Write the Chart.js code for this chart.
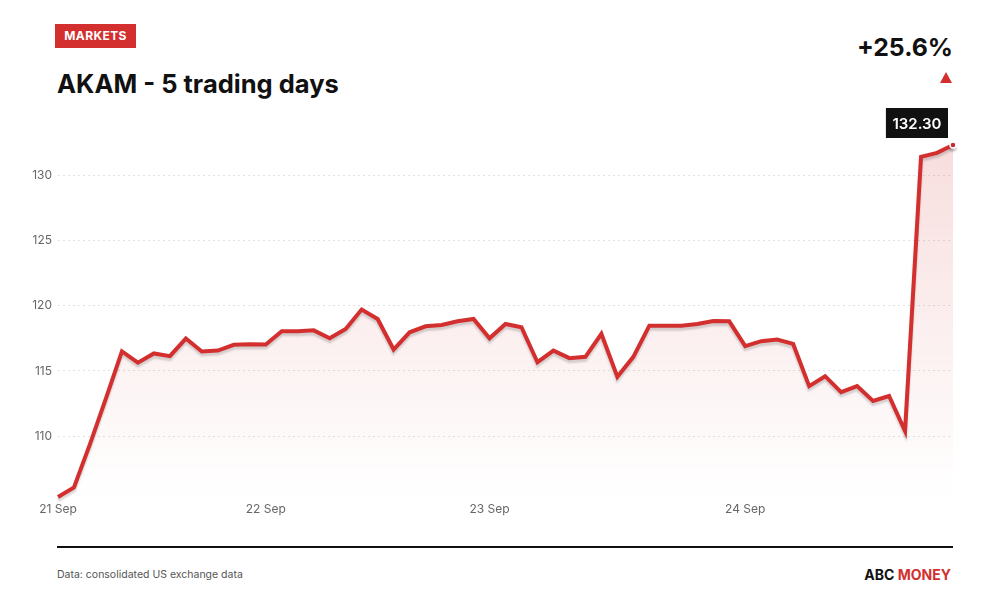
<!DOCTYPE html>
<html>
<head>
<meta charset="utf-8">
<title>AKAM - 5 trading days</title>
<script src="https://cdn.jsdelivr.net/npm/chart.js@4"></script>
<style>
  body { margin: 0; background: #fff; font-family: Inter, "Noto Sans", sans-serif; }
  #page { position: relative; width: 1000px; height: 600px; overflow: hidden; }
  #badge { position: absolute; left: 55px; top: 24px; width: 81px; height: 24px; background: #d32f2f;
    color: #fff; font-size: 12px; font-weight: 700; line-height: 24px; text-align: center; letter-spacing: 0.4px; }
  #title { position: absolute; left: 57px; top: 68px; font-size: 25.5px; font-weight: 700; color: #111; line-height: 32px; }
  #change { position: absolute; right: 47px; top: 31px; font-size: 24.8px; font-weight: 700; color: #111; line-height: 32px; }
  #arrow { position: absolute; left: 940px; top: 72px; width: 0; height: 0;
    border-left: 6.5px solid transparent; border-right: 6.5px solid transparent; border-bottom: 11px solid #d32f2f; }
  #wrap { position: absolute; left: 20px; top: 100px; width: 940px; height: 425px; }
  #rule { position: absolute; left: 57px; top: 546px; width: 896px; height: 2px; background: #111; }
  #source { position: absolute; left: 57px; top: 567px; font-size: 10.5px; color: #555; line-height: 16px; }
  #brand { position: absolute; right: 49px; top: 566px; font-size: 14px; font-weight: 700; color: #111; line-height: 18px; }
  #brand span { color: #d32f2f; }
</style>
</head>
<body>
<div id="page">
  <div id="badge">MARKETS</div>
  <div id="title">AKAM - 5 trading days</div>
  <div id="change"></div>
  <div id="arrow"></div>
  <div id="wrap"><canvas id="chart"></canvas></div>
  <div id="rule"></div>
  <div id="source">Data: consolidated US exchange data</div>
  <div id="brand">ABC <span>MONEY</span></div>
</div>
<script>
'use strict';

//*****DATA******/

let dayNames = ['21 Sep', '22 Sep', '23 Sep', '24 Sep'];
let dayCounts = [13, 14, 16, 14];

let prices = [
  105.35, 106.08, 109.4, 112.9, 116.5, 115.63, 116.34, 116.13, 117.48, 116.49,
  116.56, 117.0, 117.05, 117.02, 118.04, 118.04, 118.11, 117.5, 118.22, 119.7,
  118.98, 116.64, 117.96, 118.42, 118.52, 118.8, 118.98, 117.5, 118.6, 118.35,
  115.67, 116.56, 115.98, 116.08, 117.84, 114.55, 116.08, 118.47, 118.47, 118.47,
  118.6, 118.83, 118.8, 116.9, 117.28, 117.4, 117.07, 113.84, 114.6, 113.38,
  113.84, 112.7, 113.08, 110.4, 131.4, 131.7, 132.3
];

let yTicks = [110, 115, 120, 125, 130];

//*****HELPERS******/

let red = '#d32f2f';

let labels = [];
for (let i = 0; i < dayNames.length; i++) {
  for (let j = 0; j < dayCounts[i]; j++) {
    labels.push(dayNames[i]);
  }
}

let lastIndex = prices.length - 1;
let pctChange = (prices[lastIndex] / prices[0] - 1) * 100;
document.getElementById('change').textContent = (pctChange >= 0 ? '+' : '') + pctChange.toFixed(1) + '%';

// gray drop shadow under the line only (fill is drawn before this hook)
let shadowPlugin = {
  id: 'lineShadow',
  beforeDatasetDraw(chart) {
    let ctx = chart.ctx;
    ctx.save();
    ctx.shadowColor = 'rgba(0, 0, 0, 0.16)';
    ctx.shadowOffsetY = 3;
    ctx.shadowBlur = 2;
  },
  afterDatasetDraw(chart) {
    chart.ctx.restore();
  }
};

// black label box next to the last price
let lastLabelPlugin = {
  id: 'lastLabel',
  afterDraw(chart) {
    let ctx = chart.ctx;
    let x = chart.scales.x.getPixelForValue(lastIndex);
    let y = chart.scales.y.getPixelForValue(prices[lastIndex]);
    let text = prices[lastIndex].toFixed(2);
    ctx.save();
    ctx.font = '600 15px Inter';
    let w = ctx.measureText(text).width + 13;
    let h = 30;
    let right = x - 5;
    let bottom = y - 7;
    ctx.fillStyle = '#111';
    ctx.fillRect(right - w, bottom - h, w, h);
    ctx.fillStyle = '#fff';
    ctx.textAlign = 'center';
    ctx.textBaseline = 'middle';
    ctx.fillText(text, right - w / 2, bottom - h / 2 + 1);
    ctx.restore();
  }
};

//*****CHART******/

let canvasElem = document.getElementById('chart');

let chartObj = {
  type: 'line',
  data: {
    labels: labels,
    datasets: [{
      data: prices,
      borderColor: red,
      borderWidth: 4,
      borderJoinStyle: 'miter',
      tension: 0,
      fill: 'start',
      backgroundColor: function (context) {
        let area = context.chart.chartArea;
        if (!area) {
          return 'rgba(211, 47, 47, 0.1)';
        }
        let grad = context.chart.ctx.createLinearGradient(0, area.top, 0, area.bottom);
        grad.addColorStop(0, 'rgba(211, 47, 47, 0.16)');
        grad.addColorStop(1, 'rgba(211, 47, 47, 0.0)');
        return grad;
      },
      pointRadius: function (context) {
        return context.dataIndex === lastIndex ? 3 : 0;
      },
      pointBackgroundColor: red,
      pointBorderColor: '#fff',
      pointBorderWidth: 1.5,
      clip: false
    }]
  },
  options: {
    responsive: true,
    maintainAspectRatio: false,
    animation: false,
    layout: { padding: { top: 45, right: 7, left: 0, bottom: 0 } },
    plugins: {
      legend: { display: false },
      tooltip: { enabled: false }
    },
    scales: {
      x: {
        grid: { display: false, drawTicks: false },
        border: { display: false },
        afterFit: function (scale) { scale.height = 28; },
        ticks: {
          autoSkip: false,
          maxRotation: 0,
          padding: 5,
          color: '#666',
          font: { family: 'Inter', size: 12 },
          callback: function (value, index) {
            if (index === 0 || labels[index] !== labels[index - 1]) {
              return labels[index];
            }
            return null;
          }
        }
      },
      y: {
        bounds: 'data',
        afterFit: function (scale) { scale.width = 38; },
        afterBuildTicks: function (scale) {
          scale.ticks = yTicks.map(function (v) { return { value: v }; });
        },
        grid: {
          color: '#e2e2e2',
          lineWidth: 1,
          drawTicks: false
        },
        border: { display: false, dash: [2, 3] },
        ticks: {
          padding: 6,
          color: '#666',
          font: { family: 'Inter', size: 12 }
        }
      }
    }
  },
  plugins: [shadowPlugin, lastLabelPlugin]
};

new Chart(canvasElem, chartObj);
</script>
</body>
</html>
